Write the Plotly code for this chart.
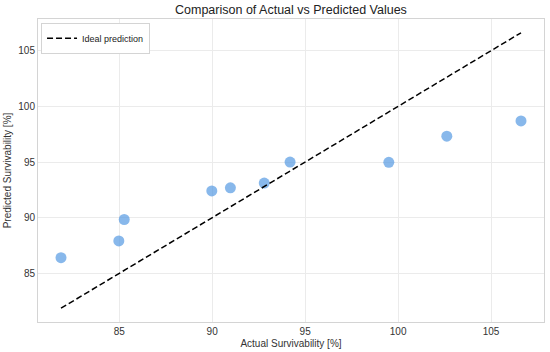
import plotly.graph_objects as go

actual = [81.87, 84.98, 85.27, 89.98, 90.98, 92.80, 94.19, 99.50, 102.62, 106.61]
predicted = [86.41, 87.91, 89.84, 92.41, 92.68, 93.11, 95.00, 94.97, 97.32, 98.69]

lo = min(min(actual), min(predicted))
hi = max(max(actual), max(predicted))
ideal = [lo, hi]

span = hi - lo
rng = [lo - 0.05 * span, hi + 0.05 * span]

FONT = "Liberation Sans, Arial, sans-serif"

fig = go.Figure()
fig.add_trace(go.Scatter(
    x=actual, y=predicted, mode="markers", showlegend=False,
    marker=dict(size=11, color="rgba(80,150,225,0.68)", line=dict(width=0)),
))
fig.add_trace(go.Scatter(
    x=ideal, y=ideal, mode="lines", name="Ideal prediction",
    line=dict(color="black", width=1.5, dash="6px,3px"),
))

axis_common = dict(
    showgrid=True, gridcolor="#ebebeb", gridwidth=1,
    showline=True, linecolor="#d4d4d4", linewidth=1, mirror=True,
    zeroline=False, ticks="", tickfont=dict(size=10, color="#333333", family=FONT),
    range=rng, dtick=5, tick0=0, automargin=False,
)

fig.update_layout(
    width=550, height=352,
    margin=dict(l=38, r=6, t=19, b=30, autoexpand=False),
    paper_bgcolor="white", plot_bgcolor="white",
    font=dict(family=FONT, color="#333333"),
    title=dict(text="Comparison of Actual vs Predicted Values", x=0.529, xanchor="center",
               y=0.972, yanchor="middle", font=dict(size=12.5, color="#222222", family=FONT),
               automargin=False),
    xaxis=dict(**axis_common, title=dict(text="Actual Survivability [%]", standoff=3,
                                          font=dict(size=10, color="#333333"))),
    yaxis=dict(**axis_common, title=dict(text="Predicted Survivability [%]", standoff=4,
                                          font=dict(size=10, color="#333333"))),
    legend=dict(x=0.006, y=0.988, xanchor="left", yanchor="top",
                bgcolor="white", bordercolor="#d4d4d4", borderwidth=1,
                font=dict(size=9, color="#222222"), itemwidth=30,
                tracegroupgap=0),
)

fig.write_html("out.html",
               config={"displayModeBar": False},
               post_script="document.body.style.margin='0';document.body.style.padding='0';")
